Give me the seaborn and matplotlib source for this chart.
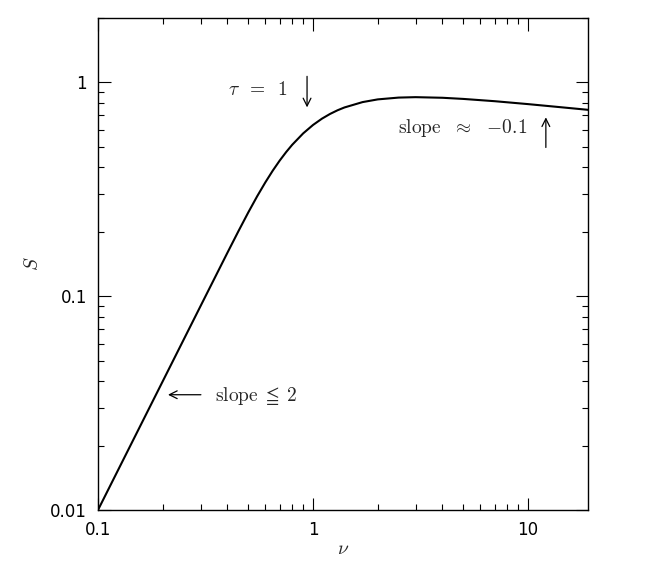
# %%
# Synchrotron-like spectrum S(nu) on log-log axes
import pandas as pd
import matplotlib
matplotlib.use("Agg")
import matplotlib.pyplot as plt
import seaborn as sns
from matplotlib.ticker import LogLocator, FixedLocator, FixedFormatter, NullFormatter

# %%
# Values
nu = [0.1, 0.15, 0.2, 0.3, 0.4, 0.45, 0.5, 0.55, 0.6, 0.65, 0.7, 0.75, 0.8, 0.9,
      1.0, 1.1, 1.2, 1.3, 1.4, 1.7, 2.0, 2.5, 3.0, 4.0, 5.0, 7.0, 10.0, 14.0, 19.0]
S = [0.0100, 0.0225, 0.0400, 0.0900, 0.1598, 0.2015, 0.2466, 0.2935, 0.3406, 0.3868,
     0.4309, 0.4722, 0.5105, 0.5774, 0.6321, 0.6764, 0.7118, 0.7404, 0.7632, 0.8086,
     0.8325, 0.8488, 0.8527, 0.8471, 0.8367, 0.8164, 0.7912, 0.7662, 0.7440]

x_ticks = [0.1, 1, 10]
x_labels = ["0.1", "1", "10"]
y_ticks = [0.01, 0.1, 1]
y_labels = ["0.01", "0.1", "1"]

df = pd.DataFrame({"nu": nu, "S": S})

# %%
sns.set_style("ticks")
plt.rcParams["font.family"] = ["DejaVu Sans"]
plt.rcParams["mathtext.fontset"] = "cm"

fig = plt.figure(figsize=(6.65, 5.65), dpi=100)
ax = fig.add_axes([98 / 665, 1 - 510 / 565, 490 / 665, 492 / 565])

sns.lineplot(data=df, x="nu", y="S", color="black", lw=1.5, ax=ax)

ax.set_xscale("log")
ax.set_yscale("log")
ax.set_xlim(0.1, 19)
ax.set_ylim(0.01, 2)

ax.xaxis.set_major_locator(FixedLocator(x_ticks))
ax.xaxis.set_major_formatter(FixedFormatter(x_labels))
ax.yaxis.set_major_locator(FixedLocator(y_ticks))
ax.yaxis.set_major_formatter(FixedFormatter(y_labels))
for axis in (ax.xaxis, ax.yaxis):
    axis.set_minor_locator(LogLocator(base=10, subs=range(2, 10)))
    axis.set_minor_formatter(NullFormatter())

ax.tick_params(which="both", direction="in", top=True, right=True,
               width=0.8, colors="black", labelsize=12, pad=8)
ax.tick_params(which="major", length=9)
ax.tick_params(which="minor", length=4.5)
for sp in ax.spines.values():
    sp.set_visible(True)
    sp.set_linewidth(1.0)
    sp.set_color("black")

ax.set_xlabel(r"$\nu$", fontsize=14, labelpad=0)
ax.set_ylabel(r"$S$", fontsize=14, labelpad=6)

# annotations
arrow = dict(arrowstyle="->", lw=0.9, color="black", shrinkA=0, shrinkB=0,
             mutation_scale=14)

ax.text(0.765, 0.927, r"$\tau\;\;=\;\;1$", fontsize=14, ha="right", va="center")
ax.annotate("", xy=(0.938, 0.764), xytext=(0.938, 1.067), arrowprops=arrow)

ax.text(9.89, 0.609, r"$\mathrm{slope}\;\;\,\approx\;\;\,{-}0.1$", fontsize=14,
        ha="right", va="center")
ax.annotate("", xy=(12.1, 0.686), xytext=(12.1, 0.496), arrowprops=arrow)

ax.text(0.350, 0.0343, r"$\mathrm{slope}\;\leqq\;2$", fontsize=14,
        ha="left", va="center")
ax.annotate("", xy=(0.2116, 0.0346), xytext=(0.301, 0.0346), arrowprops=arrow)

fig.savefig("out.png", dpi=100)
